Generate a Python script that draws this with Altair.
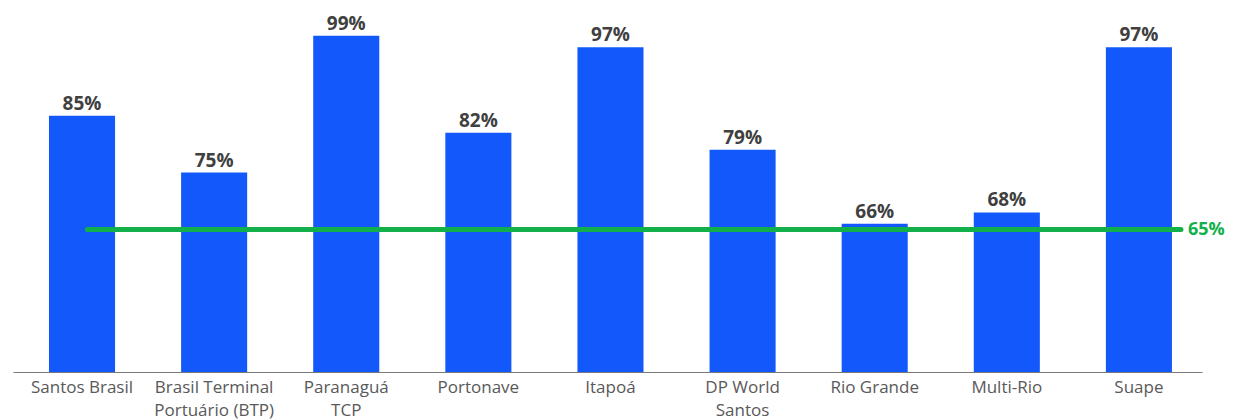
import altair as alt
import pandas as pd

ports = ["Santos Brasil", "Brasil Terminal Portuário (BTP)", "Paranaguá TCP", "Portonave",
         "Itapoá", "DP World Santos", "Rio Grande", "Multi-Rio", "Suape"]
values = [85, 75, 99, 82, 97, 79, 66, 68, 97]
label_lines = [["Santos Brasil"], ["Brasil Terminal", "Portuário (BTP)"], ["Paranaguá", "TCP"],
               ["Portonave"], ["Itapoá"], ["DP World", "Santos"], ["Rio Grande"],
               ["Multi-Rio"], ["Suape"]]
target = 65
y_floor = 40

FONT = "Open Sans"
BLUE = "#1258FA"
GREEN = "#11B04A"

df = pd.DataFrame({"port": ports, "value": values,
                   "label": [f"{v}%" for v in values]})
tdf = pd.DataFrame({"start": [ports[0]], "end": [ports[-1]], "target": [target],
                    "tlabel": [f"{target}%"]})

# multi-line label expression
expr = "datum.label"
for name, lines in zip(ports, label_lines):
    if len(lines) > 1:
        arr = "[" + ", ".join("'" + l + "'" for l in lines) + "]"
        expr = f"datum.label == '{name}' ? {arr} : ({expr})"

xscale = alt.Scale(domain=ports, paddingInner=0.5, paddingOuter=0.25, align=0.545)
yscale = alt.Scale(domain=[y_floor, 103.54], nice=False, zero=False)

x = alt.X("port:N", scale=xscale, title=None,
          axis=alt.Axis(labelAngle=0, ticks=False, grid=False, domainColor="#7a7a7a",
                        domainWidth=1.2, labelFont=FONT, labelFontSize=17,
                        labelColor="#595959", labelPadding=7, labelLineHeight=23,
                        labelExpr=expr, labelBaseline="top"))

base = alt.Chart(df)
bars = base.mark_bar(color=BLUE).encode(
    x=x,
    y=alt.Y("value:Q", scale=yscale, axis=None),
    y2=alt.datum(y_floor),
)
texts = base.mark_text(font=FONT, fontSize=19, fontWeight="bold", color="#404040",
                       baseline="alphabetic", dy=-6).encode(
    x=alt.X("port:N"),
    y=alt.Y("value:Q"),
    text="label:N",
)

rule = alt.Chart(tdf).mark_rule(color=GREEN, strokeWidth=5, strokeCap="round",
                                x2Offset=9).encode(
    x=alt.X("start:N", bandPosition=0.58),
    x2=alt.X2("end:N", bandPosition=1),
    y=alt.Y("target:Q"),
)
tlabel = alt.Chart(tdf).mark_text(font=FONT, fontSize=18, fontWeight="bold", color=GREEN,
                                  align="left", baseline="middle", dx=16).encode(
    x=alt.X("end:N", bandPosition=1),
    y=alt.Y("target:Q"),
    text="tlabel:N",
)

chart = alt.layer(bars, texts, rule, tlabel).properties(
    width=1189, height=362,
    autosize=alt.AutoSizeParams(type="none"),
    padding={"left": 5, "top": 2, "right": 23, "bottom": 48},
).configure_view(stroke=None)

chart.save("out.html", embed_options={"renderer": "svg", "actions": False})
